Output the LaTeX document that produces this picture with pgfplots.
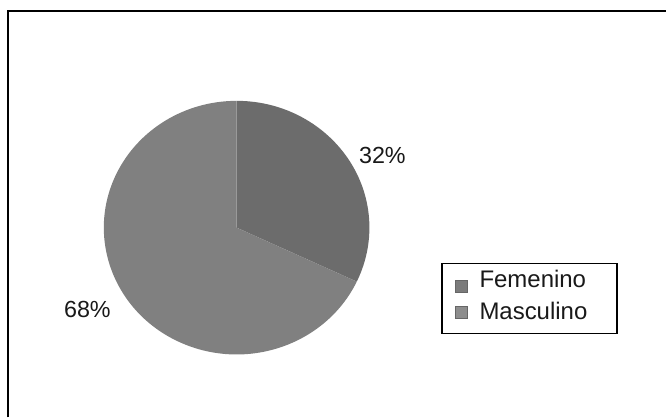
\documentclass[border=0pt]{standalone}
\usepackage{pgfplots}
\usepackage{pgfplotstable}
\pgfplotsset{compat=1.18}
\usepackage{fontspec}
\setmainfont{Liberation Sans}
\definecolor{femcol}{RGB}{108,108,108}
\definecolor{mascol}{RGB}{128,128,128}
\pgfplotstableread{
label value
Femenino 32
Masculino 68
}\piedata
\begin{document}
\begin{tikzpicture}
\pgfplotstablegetelem{0}{value}\of\piedata \let\vA\pgfplotsretval
\pgfplotstablegetelem{1}{value}\of\piedata \let\vB\pgfplotsretval
\pgfmathsetmacro\tot{\vA+\vB}
\pgfmathsetmacro\aA{90-360*(\vA/\tot)}
\pgfmathsetmacro\aB{\aA-360*(\vB/\tot)}
\pgfmathsetmacro\exA{99.75*cos(\aA)}
\pgfmathsetmacro\eyA{95.25*sin(\aA)}
\begin{axis}[
  scale only axis, width=500.25pt, height=313.5pt,
  xmin=0, xmax=667, ymin=0, ymax=418, y dir=reverse,
  hide axis, clip=false,
]
\addplot[draw=none, forget plot] coordinates {(0,0) (667,418)};
\fill[white] (axis cs:0,0) rectangle (axis cs:667,418);
% frame
\draw[line width=1.6pt, black] (axis cs:8,418) -- (axis cs:8,11) -- (axis cs:667,11);
% pie
\fill[femcol] (axis cs:237,228) -- ++(90:95.25pt)
  arc[start angle=90, end angle=\aA, x radius=99.75pt, y radius=95.25pt] -- cycle;
\fill[mascol] (axis cs:237,228) -- ++(\exA pt,\eyA pt)
  arc[start angle=\aA, end angle=\aB, x radius=99.75pt, y radius=95.25pt] -- cycle;
% labels
\node[font=\fontsize{17.5}{20}\selectfont, text=black!90] at (axis cs:383,156) {32\%};
\node[font=\fontsize{17.5}{20}\selectfont, text=black!90] at (axis cs:87.5,310) {68\%};
% legend
\draw[line width=1.3pt, black] (axis cs:443,264) rectangle (axis cs:618,334);
\filldraw[fill=femcol!90!white, draw=black!60, line width=0.4pt] (axis cs:456,281) rectangle (axis cs:468,293);
\filldraw[fill=mascol!90!white, draw=black!60, line width=0.4pt] (axis cs:456,307) rectangle (axis cs:468,319);
\node[font=\fontsize{18}{20}\selectfont, anchor=west, inner sep=0pt, text=black!90] at (axis cs:480,279) {Femenino};
\node[font=\fontsize{18}{20}\selectfont, anchor=west, inner sep=0pt, text=black!90] at (axis cs:480,311) {Masculino};
\end{axis}
\end{tikzpicture}
\end{document}
